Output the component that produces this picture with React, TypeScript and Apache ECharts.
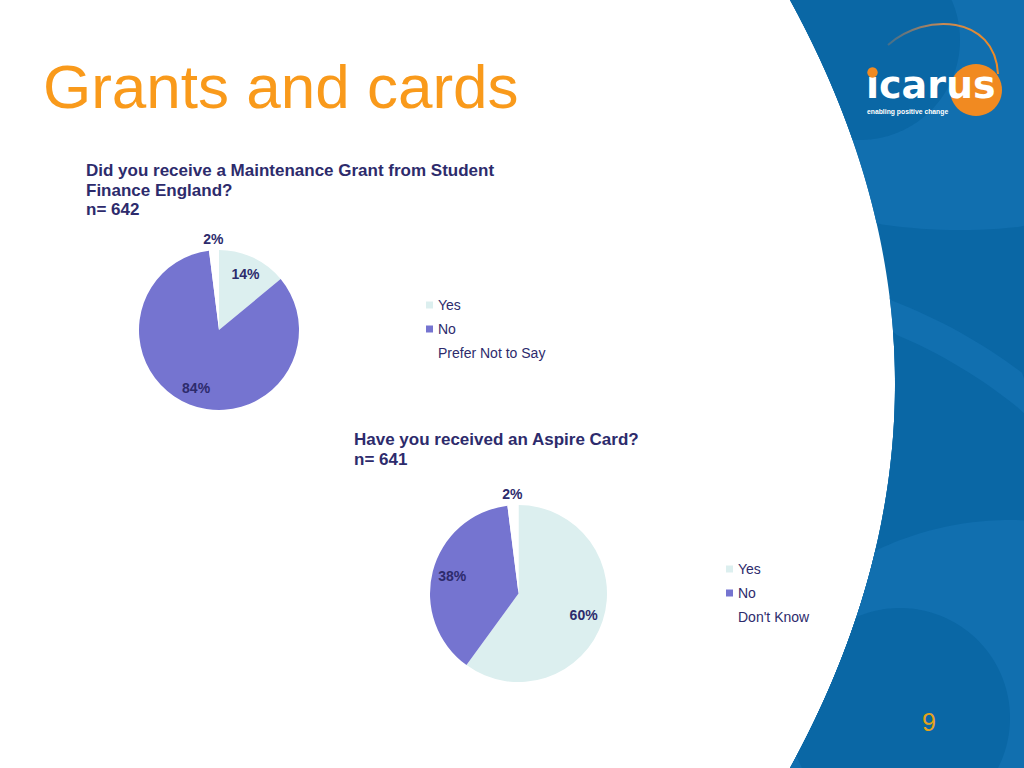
import React, { useEffect, useRef } from "react";
import * as echarts from "echarts";

const grantCategories = ["Yes", "No", "Prefer Not to Say"];
const grantValues = [14, 84, 2];
const cardCategories = ["Yes", "No", "Don't Know"];
const cardValues = [60, 38, 2];
const sliceColors = ["#dcefef", "#7574d0", "#ffffff"];

const NAVY = "#2d2b6c";
const FONT = "'Liberation Sans', Arial, sans-serif";

const W = 1024;
const H = 768;
// left edge of the blue decorative band
const bx = (y: number) => 790 + 420 * (y / H) * (1 - y / H);

function bandPolygon(): number[][] {
  const pts: number[][] = [];
  for (let i = 0; i <= 96; i++) {
    const y = (H * i) / 96;
    pts.push([bx(y), y]);
  }
  pts.push([W, H]);
  pts.push([W, 0]);
  return pts;
}

function clampedCircle(cx: number, cy: number, r: number): number[][] {
  const pts: number[][] = [];
  const n = 360;
  for (let i = 0; i < n; i++) {
    const a = (2 * Math.PI * i) / n;
    let y = cy + r * Math.sin(a);
    y = Math.max(0, Math.min(H, y));
    let x = cx + r * Math.cos(a);
    x = Math.min(W, Math.max(x, bx(y)));
    pts.push([x, y]);
  }
  return pts;
}

function makeData(cats: string[], vals: number[]) {
  return cats.map((name, i) => ({
    name,
    value: vals[i],
    itemStyle: { color: sliceColors[i] },
  }));
}

function labelData(cats: string[], vals: number[], showIdx: number[]) {
  return cats.map((name, i) => ({
    name,
    value: vals[i],
    label: { show: showIdx.indexOf(i) >= 0 },
  }));
}

function pieSeries(center: number[], r: number, cats: string[], vals: number[]) {
  const common = {
    type: "pie",
    center,
    startAngle: 90,
    clockwise: true,
    silent: true,
    avoidLabelOverlap: false,
    emphasis: { disabled: true },
    labelLine: { show: false },
  };
  const labelStyle = {
    position: "inside",
    formatter: "{c}%",
    color: NAVY,
    fontFamily: FONT,
    fontWeight: "bold",
    fontSize: 14,
  };
  return [
    {
      ...common,
      radius: [0, r],
      label: { show: false },
      itemStyle: { borderWidth: 0 },
      data: makeData(cats, vals),
    },
    {
      ...common,
      radius: [r * 0.48, r],
      itemStyle: { color: "rgba(0,0,0,0)", borderWidth: 0 },
      label: labelStyle,
      data: labelData(cats, vals, [0, 1]),
    },
    {
      ...common,
      radius: [r, r + 16],
      itemStyle: { color: "rgba(0,0,0,0)", borderWidth: 0 },
      label: labelStyle,
      data: labelData(cats, vals, [2]),
    },
  ];
}

function legend(left: number, top: number, cats: string[]) {
  return {
    orient: "vertical",
    left,
    top,
    padding: 0,
    icon: "rect",
    itemWidth: 7,
    itemHeight: 7,
    itemGap: 8,
    selectedMode: false,
    data: cats,
    textStyle: {
      fontFamily: FONT,
      fontSize: 14,
      color: NAVY,
      lineHeight: 16,
    },
  };
}

export default function App() {
  const ref = useRef<HTMLDivElement>(null);
  useEffect(() => {
    if (!ref.current) return;
    const chart = echarts.init(ref.current, null, { renderer: "svg" });

    const lightBlue = "#116faf";
    const baseBlue = "#0a67a5";

    const deco = (pts: number[][], fill: string, z: number) => ({
      type: "polygon",
      shape: { points: pts },
      style: { fill },
      silent: true,
      z,
    });

    const graphics: any[] = [
      deco(bandPolygon(), baseBlue, -10),
      deco(clampedCircle(960, -330, 560), lightBlue, -9),
      deco(clampedCircle(860, 40, 100), baseBlue, -8),
      deco(clampedCircle(700, 800, 535), lightBlue, -7),
      deco(clampedCircle(700, 800, 505), baseBlue, -6),
      deco(clampedCircle(1010, 830, 310), lightBlue, -5),
      deco(clampedCircle(900, 718, 110), baseBlue, -4),
      // logo
      {
        type: "bezierCurve",
        shape: { x1: 888, y1: 45, cpx1: 925, cpy1: 12, cpx2: 995, cpy2: 15, x2: 998, y2: 74 },
        style: {
          fill: "none",
          lineWidth: 2,
          stroke: new echarts.graphic.LinearGradient(0, 0, 1, 0, [
            { offset: 0, color: "rgba(200,130,80,0.3)" },
            { offset: 0.5, color: "#c98a55" },
            { offset: 1, color: "#f18a21" },
          ]),
        },
        silent: true,
        z: 1,
      },
      { type: "circle", shape: { cx: 976, cy: 90, r: 26 }, style: { fill: "#f18a21" }, silent: true, z: 1 },
      {
        type: "text",
        x: 866,
        y: 85,
        style: {
          text: "icarus",
          font: "bold 38px 'DejaVu Sans'",
          fill: "#ffffff",
          textVerticalAlign: "middle",
          lineHeight: 28,
        },
        silent: true,
        z: 2,
      },
      { type: "circle", shape: { cx: 872.5, cy: 72.5, r: 5.2 }, style: { fill: "#f18a21" }, silent: true, z: 3 },
      {
        type: "text",
        x: 867,
        y: 111,
        style: {
          text: "enabling positive change",
          font: `bold 6.8px ${FONT}`,
          fill: "#ffffff",
          textVerticalAlign: "middle",
        },
        silent: true,
        z: 2,
      },
      // title
      {
        type: "text",
        x: 43,
        y: 86,
        style: { text: "Grants and cards", font: `62px ${FONT}`, fill: "#f99a1b", textVerticalAlign: "middle" },
        silent: true,
      },
      ...[
        ["Did you receive a Maintenance Grant from Student", 86, 170],
        ["Finance England?", 86, 190],
        ["n= 642", 86, 209],
        ["Have you received an Aspire Card?", 354, 439],
        ["n= 641", 354, 459],
      ].map(([t, x, y]) => ({
        type: "text",
        x,
        y,
        style: { text: t, font: `bold 17px ${FONT}`, fill: NAVY, textVerticalAlign: "middle" },
        silent: true,
      })),
      {
        type: "text",
        x: 929,
        y: 722,
        style: { text: "9", font: `25px ${FONT}`, fill: "#e6a31a", textAlign: "center", textVerticalAlign: "middle" },
        silent: true,
        z: 2,
      },
    ];

    chart.setOption({
      animation: false,
      backgroundColor: "#ffffff",
      graphic: graphics,
      legend: [legend(426, 297, grantCategories), legend(726, 561, cardCategories)],
      series: [
        ...pieSeries([219, 330], 80, grantCategories, grantValues).slice(0, 1),
        ...pieSeries([518.5, 593.5], 88.5, cardCategories, cardValues).slice(0, 1),
        ...pieSeries([219, 330], 80, grantCategories, grantValues).slice(1),
        ...pieSeries([518.5, 593.5], 88.5, cardCategories, cardValues).slice(1),
      ],
    });
    return () => chart.dispose();
  }, []);
  return (
    <div
      ref={ref}
      style={{ position: "absolute", left: 0, top: 0, width: 1024, height: 768 }}
    />
  );
}
